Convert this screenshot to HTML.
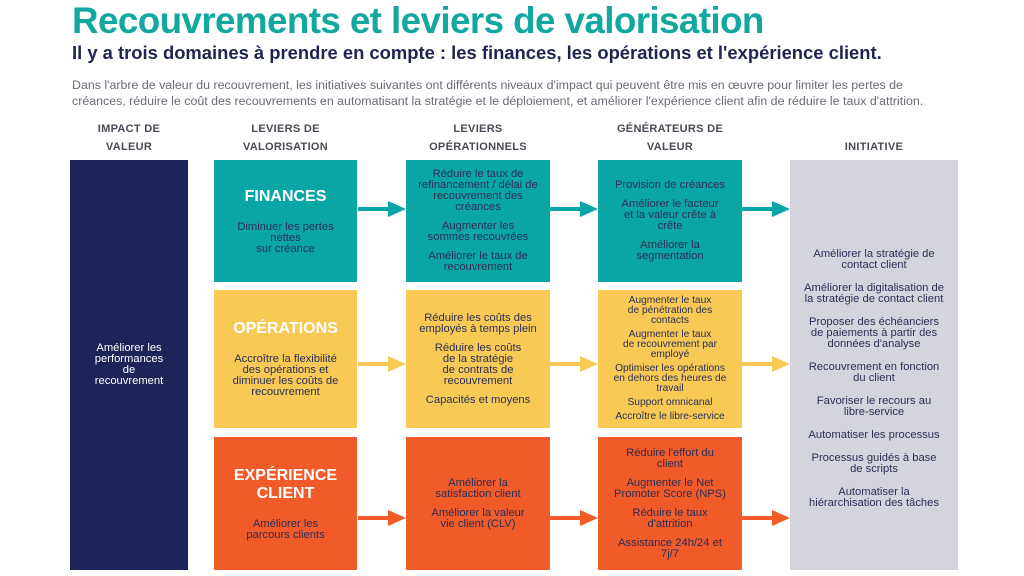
<!DOCTYPE html>
<html><head><meta charset="utf-8"><style>
*{margin:0;padding:0;box-sizing:border-box}
body{width:1024px;height:576px;background:#fff;position:relative;overflow:hidden;font-family:"Liberation Sans",sans-serif;color:#2b2f55}
.a{position:absolute}
h1{position:absolute;left:72px;top:0px;font-size:36.8px;color:#12a89f;font-weight:bold;letter-spacing:-0.6px;white-space:nowrap}
h2{position:absolute;left:72px;top:42px;font-size:18.4px;color:#1f2450;font-weight:bold;white-space:nowrap}
.p{left:72px;top:77px;font-size:12.4px;color:#6a6a78;line-height:16px;width:885px}
.hd{font-size:11px;font-weight:bold;color:#4a4a55;text-align:center;line-height:18px;letter-spacing:.3px}
.b{position:absolute;display:flex;flex-direction:column;justify-content:center;align-items:center;text-align:center;font-size:11.2px;line-height:11px;padding:0 8px}
.b p{margin:4px 0}
.t{background:#0aa6a6}.y{background:#f8c955}.o{background:#f15a29}
.big{font-size:16px;font-weight:bold;color:#fff;line-height:18px;margin-bottom:12px!important}
</style></head><body>
<h1>Recouvrements et leviers de valorisation</h1>
<h2>Il y a trois domaines à prendre en compte : les finances, les opérations et l'expérience client.</h2>
<div class="a p">Dans l'arbre de valeur du recouvrement, les initiatives suivantes ont différents niveaux d'impact qui peuvent être mis en œuvre pour limiter les pertes de créances, réduire le coût des recouvrements en automatisant la stratégie et le déploiement, et améliorer l'expérience client afin de réduire le taux d'attrition.</div>
<div class="a hd" style="left:70px;top:120px;width:118px">IMPACT DE<br>VALEUR</div>
<div class="a hd" style="left:214px;top:120px;width:143px">LEVIERS DE<br>VALORISATION</div>
<div class="a hd" style="left:406px;top:120px;width:144px">LEVIERS<br>OPÉRATIONNELS</div>
<div class="a hd" style="left:598px;top:120px;width:144px">GÉNÉRATEURS DE<br>VALEUR</div>
<div class="a hd" style="left:790px;top:138px;width:168px">INITIATIVE</div>

<div class="b" style="left:70px;top:160px;width:118px;height:410px;background:#1d2558;color:#fff;padding:0 18px"><p>Améliorer les performances de recouvrement</p></div>

<div class="b t" style="left:214px;top:160px;width:143px;height:122px;padding:0 18px"><p class="big">FINANCES</p><p>Diminuer les pertes nettes<br>sur créance</p></div>
<div class="b y" style="left:214px;top:290px;width:143px;height:138px;padding:0 10px"><p class="big">OPÉRATIONS</p><p>Accroître la flexibilité des opérations et diminuer les coûts de recouvrement</p></div>
<div class="b o" style="left:214px;top:437px;width:143px;height:133px"><p class="big">EXPÉRIENCE<br>CLIENT</p><p>Améliorer les<br>parcours clients</p></div>

<div class="b t" style="left:406px;top:160px;width:144px;height:122px"><p>Réduire le taux de refinancement / délai de recouvrement des créances</p><p>Augmenter les<br>sommes recouvrées</p><p>Améliorer le taux de recouvrement</p></div>
<div class="b y" style="left:406px;top:290px;width:144px;height:138px"><p>Réduire les coûts des employés à temps plein</p><p>Réduire les coûts<br>de la stratégie<br>de contrats de recouvrement</p><p>Capacités et moyens</p></div>
<div class="b o" style="left:406px;top:437px;width:144px;height:133px"><p>Améliorer la<br>satisfaction client</p><p>Améliorer la valeur<br>vie client (CLV)</p></div>

<div class="b t" style="left:598px;top:160px;width:144px;height:122px;padding:0 16px"><p>Provision de créances</p><p>Améliorer le facteur<br>et la valeur crête à crête</p><p>Améliorer la<br>segmentation</p></div>
<div class="b y" style="left:598px;top:290px;width:144px;height:138px;font-size:10.2px;line-height:10px;padding:0 12px"><p style="margin:2px 0">Augmenter le taux<br>de pénétration des contacts</p><p style="margin:2px 0">Augmenter le taux<br>de recouvrement par employé</p><p style="margin:2px 0">Optimiser les opérations en dehors des heures de travail</p><p style="margin:2px 0">Support omnicanal</p><p style="margin:2px 0">Accroître le libre-service</p></div>
<div class="b o" style="left:598px;top:437px;width:144px;height:133px;padding:0 14px"><p>Réduire l'effort du<br>client</p><p>Augmenter le Net Promoter Score (NPS)</p><p>Réduire le taux<br>d'attrition</p><p>Assistance 24h/24 et<br>7j/7</p></div>

<div class="b" style="left:790px;top:160px;width:168px;height:410px;background:#d4d4dc;padding:28px 14px 0;line-height:11px"><p style="margin:6px 0">Améliorer la stratégie de contact client</p><p style="margin:6px 0">Améliorer la digitalisation de la stratégie de contact client</p><p style="margin:6px 0">Proposer des échéanciers de paiements à partir des données d'analyse</p><p style="margin:6px 0">Recouvrement en fonction du client</p><p style="margin:6px 0">Favoriser le recours au libre-service</p><p style="margin:6px 0">Automatiser les processus</p><p style="margin:6px 0">Processus guidés à base de scripts</p><p style="margin:6px 0">Automatiser la hiérarchisation des tâches</p></div>

<svg class="a" style="left:0;top:0" width="1024" height="576">
<defs>
<g id="ar"><rect x="0" y="-2" width="34" height="4"/><polygon points="30,-8 48,0 30,8"/></g>
</defs>
<g fill="#0aa6a6"><use href="#ar" x="358" y="209"/><use href="#ar" x="550" y="209"/><use href="#ar" x="742" y="209"/></g>
<g fill="#f8c955"><use href="#ar" x="358" y="364"/><use href="#ar" x="550" y="364"/><use href="#ar" x="742" y="364"/></g>
<g fill="#f15a29"><use href="#ar" x="358" y="518"/><use href="#ar" x="550" y="518"/><use href="#ar" x="742" y="518"/></g>
</svg>
</body></html>
